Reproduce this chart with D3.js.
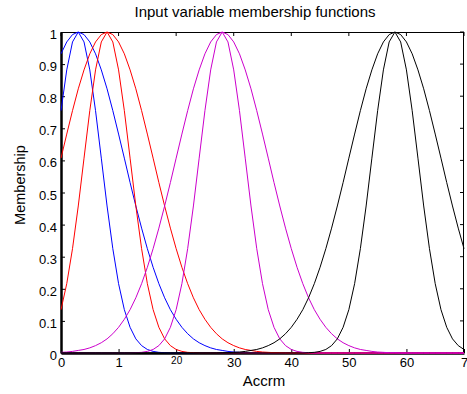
<!DOCTYPE html>
<html>
<head>
<meta charset="utf-8">
<script src="https://cdn.jsdelivr.net/npm/d3@7"></script>
<style>
  body { margin: 0; background: #fff; }
  svg { display: block; font-family: Arial, "Liberation Sans", sans-serif; }
</style>
</head>
<body>
<div id="chart"></div>
<script>
// input grid (Accrm) and membership values
const xs = d3.range(0, 71);

const blueNarrow = [.755,.882,.969,1,.969,.882,.755,.607,.458,.325,.216,.135,.080,.044,.023,.011,.005,.002,.001,
  0,0,0,0,0,0,0,0,0,0,0,0,0,0,0,0,0,0,0,0,0,0,0,0,0,0,0,0,0,0,0,0,0,0,0,0,0,0,0,0,0,0,0,0,0,0,0,0,0,0,0,0];
const blueWide = [.932,.969,.992,1,.992,.969,.932,.882,.823,.755,.682,.607,.531,.458,.389,.325,.267,.216,.172,.135,
  .105,.080,.060,.044,.032,.023,.016,.011,.008,.005,.003,.002,.001,.001,
  0,0,0,0,0,0,0,0,0,0,0,0,0,0,0,0,0,0,0,0,0,0,0,0,0,0,0,0,0,0,0,0,0,0,0,0,0];
const redNarrow = [.135,.216,.325,.458,.607,.755,.882,.969,1,.969,.882,.755,.607,.458,.325,.216,.135,.080,.044,.023,
  .011,.005,.002,.001,
  0,0,0,0,0,0,0,0,0,0,0,0,0,0,0,0,0,0,0,0,0,0,0,0,0,0,0,0,0,0,0,0,0,0,0,0,0,0,0,0,0,0,0,0,0,0,0];
const redWide = [.607,.682,.755,.823,.882,.932,.969,.992,1,.992,.969,.932,.882,.823,.755,.682,.607,.531,.458,.389,
  .325,.267,.216,.172,.135,.105,.080,.060,.044,.032,.023,.016,.011,.008,.005,.003,.002,.001,.001,
  0,0,0,0,0,0,0,0,0,0,0,0,0,0,0,0,0,0,0,0,0,0,0,0,0,0,0,0,0,0,0,0];
const magNarrow = [0,0,0,0,0,0,0,0,0,0,0,0,0,
  .001,.002,.005,.011,.023,.044,.080,.135,.216,.325,.458,.607,.755,.882,.969,1,.969,.882,.755,.607,.458,.325,.216,
  .135,.080,.044,.023,.011,.005,.002,.001,
  0,0,0,0,0,0,0,0,0,0,0,0,0,0,0,0,0,0,0,0,0,0,0,0,0,0,0];
const magWide = [.002,.003,.005,.008,.011,.016,.023,.032,.044,.060,.080,.105,.135,.172,.216,.267,.325,.389,.458,.531,
  .607,.682,.755,.823,.882,.932,.969,.992,1,.992,.969,.932,.882,.823,.755,.682,.607,.531,.458,.389,
  .325,.267,.216,.172,.135,.105,.080,.060,.044,.032,.023,.016,.011,.008,.005,.003,.002,.001,.001,
  0,0,0,0,0,0,0,0,0,0,0,0];
const blackNarrow = [0,0,0,0,0,0,0,0,0,0,0,0,0,0,0,0,0,0,0,0,0,0,0,0,0,0,0,0,0,0,0,0,0,0,0,0,0,0,0,0,0,0,0,
  .001,.002,.005,.011,.023,.044,.080,.135,.216,.325,.458,.607,.755,.882,.969,1,.969,.882,.755,.607,.458,.325,.216,
  .135,.080,.044,.023,.011];
const blackWide = [0,0,0,0,0,0,0,0,0,0,0,0,0,0,0,0,0,0,0,0,0,0,0,0,0,0,0,0,
  .001,.001,.002,.003,.005,.008,.011,.016,.023,.032,.044,.060,.080,.105,.135,.172,.216,.267,.325,.389,.458,.531,
  .607,.682,.755,.823,.882,.932,.969,.992,1,.992,.969,.932,.882,.823,.755,.682,.607,.531,.458,.389,.325];

const series = [
  { values: blueNarrow, color: '#0000ff' },
  { values: blueWide, color: '#0000ff' },
  { values: redNarrow, color: '#ff0000' },
  { values: redWide, color: '#ff0000' },
  { values: magNarrow, color: '#cc00cc' },
  { values: magWide, color: '#cc00cc' },
  { values: blackNarrow, color: '#000000' },
  { values: blackWide, color: '#000000' }
];

const xTickValues = [0, 10, 20, 30, 40, 50, 60, 70];
const xTickLabels = ['0', '1', '20', '30', '40', '50', '60', '7'];
const yTickValues = d3.range(0, 11).map(d => d / 10);

const W = 467, H = 394;
const margin = { top: 32, right: 3, bottom: 41, left: 61 },
  width = W - margin.left - margin.right,
  height = H - margin.top - margin.bottom;

const svg = d3.select('#chart')
  .append('svg')
  .attr('width', W)
  .attr('height', H)
  .append('g')
  .attr('transform', `translate(${margin.left}, ${margin.top})`);

const x = d3.scaleLinear().domain([0, 70]).range([0, width]);
const y = d3.scaleLinear().domain([0, 1]).range([height, 0]);

// title
svg.append('text')
  .attr('x', 194).attr('y', -15.5)
  .attr('font-size', '15px')
  .attr('fill', '#000')
  .attr('text-anchor', 'middle')
  .text('Input variable membership functions');

// box (top / right)
svg.append('line')
  .attr('x1', 0).attr('x2', width).attr('y1', 0.5).attr('y2', 0.5)
  .attr('stroke', '#000').attr('stroke-width', 1);
svg.append('line')
  .attr('x1', width - 0.5).attr('x2', width - 0.5).attr('y1', 0).attr('y2', height)
  .attr('stroke', '#000').attr('stroke-width', 1);

// mirrored ticks on top and right
svg.selectAll('.tick-top')
  .data(xTickValues)
  .enter()
  .append('line')
  .attr('x1', d => x(d)).attr('x2', d => x(d))
  .attr('y1', 0).attr('y2', 4)
  .attr('stroke', '#000');
svg.selectAll('.tick-right')
  .data(yTickValues)
  .enter()
  .append('line')
  .attr('x1', width).attr('x2', width - 4)
  .attr('y1', d => y(d)).attr('y2', d => y(d))
  .attr('stroke', '#000');

// bottom axis
const xAxis = svg.append('g')
  .attr('transform', 'translate(0,' + height + ')')
  .call(d3.axisBottom(x).tickValues(xTickValues).tickSizeInner(-4).tickSizeOuter(0)
    .tickFormat((d, i) => xTickLabels[i]));
xAxis.select('.domain').attr('stroke-width', 2.5);
xAxis.selectAll('.tick line').attr('stroke-width', 1);
xAxis.selectAll('.tick text')
  .attr('font-size', '13px').attr('font-family', 'Arial, "Liberation Sans", sans-serif')
  .attr('fill', '#000')
  .attr('y', 5).attr('dy', '0.71em');
xAxis.selectAll('.tick text')
  .filter(d => d === 20)
  .attr('font-size', '10px').attr('y', 4);

svg.append('text')
  .attr('x', 203).attr('y', height + 33)
  .attr('font-size', '15px')
  .attr('fill', '#000')
  .attr('text-anchor', 'middle')
  .text('Accrm');

// left axis
const yAxis = svg.append('g')
  .call(d3.axisLeft(y).tickValues(yTickValues).tickSizeInner(-4).tickSizeOuter(0)
    .tickFormat(d3.format('~g')));
yAxis.select('.domain').attr('stroke-width', 2.5);
yAxis.selectAll('.tick text')
  .attr('font-size', '13px').attr('font-family', 'Arial, "Liberation Sans", sans-serif')
  .attr('fill', '#000')
  .attr('x', -4).attr('dy', '0.5em');

svg.append('text')
  .attr('x', -153).attr('y', -36)
  .attr('font-size', '14.5px')
  .attr('fill', '#000')
  .attr('transform', 'rotate(-90)')
  .attr('text-anchor', 'middle')
  .text('Membership');

// membership curves
const line = d3.line()
  .x((d, i) => x(xs[i]))
  .y(d => y(d));

svg.selectAll('.mf')
  .data(series)
  .enter()
  .append('path')
  .attr('class', 'mf')
  .attr('d', d => line(d.values))
  .attr('fill', 'none')
  .attr('stroke', d => d.color)
  .attr('stroke-width', 1);
</script>
</body>
</html>
